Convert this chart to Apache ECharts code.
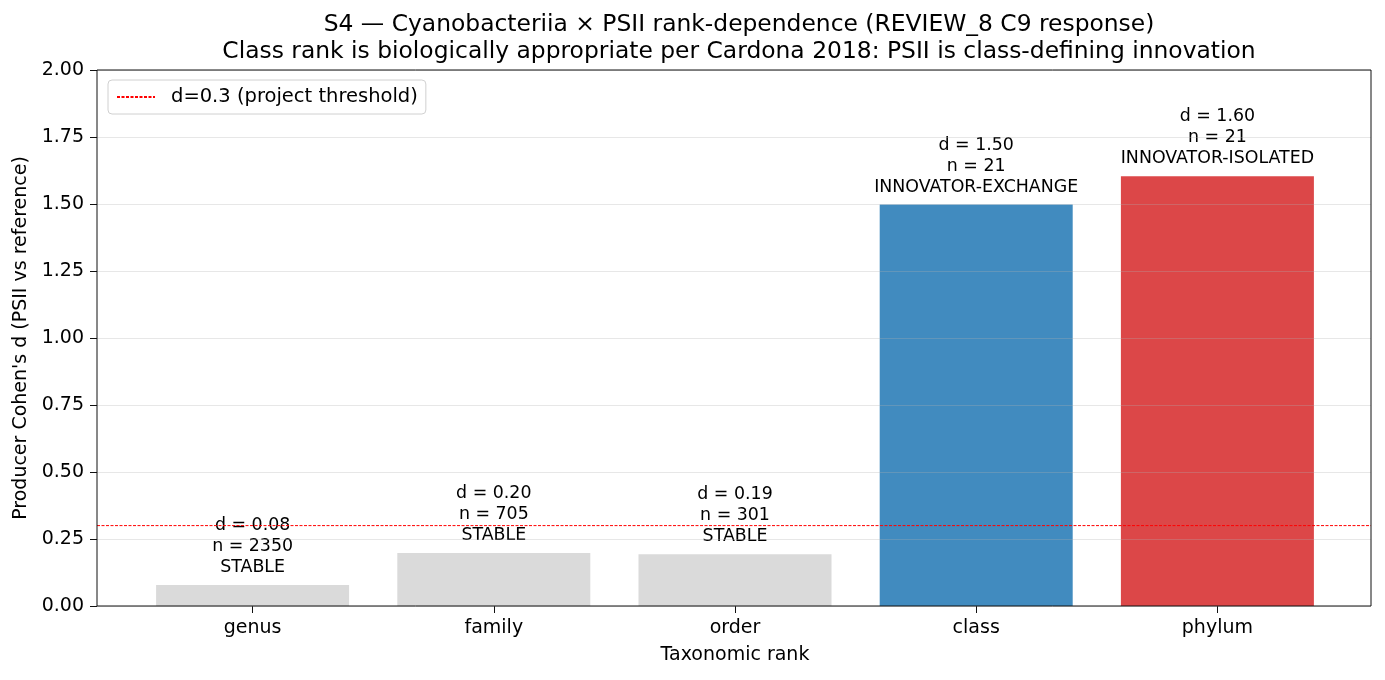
<!DOCTYPE html>
<html>
<head>
<meta charset="utf-8">
<script src="https://cdn.jsdelivr.net/npm/echarts@6/dist/echarts.min.js"></script>
<style>
  html, body { margin: 0; padding: 0; background: #fff; }
  #main { width: 1385px; height: 680px; }
</style>
</head>
<body>
<div id="main"></div>
<script>
// data
var ranks = ['genus', 'family', 'order', 'class', 'phylum'];
var cohenD = [0.078, 0.198, 0.193, 1.498, 1.604];
var nTaxa = [2350, 705, 301, 21, 21];
var verdicts = ['STABLE', 'STABLE', 'STABLE', 'INNOVATOR-EXCHANGE', 'INNOVATOR-ISOLATED'];
var threshold = 0.3;
var yTicks = [0, 0.25, 0.5, 0.75, 1.0, 1.25, 1.5, 1.75, 2.0];

// colours per verdict
var verdictColor = {
  'STABLE': '#dadada',
  'INNOVATOR-EXCHANGE': '#418bbf',
  'INNOVATOR-ISOLATED': '#dc4748'
};

var font = 'DejaVu Sans';
var chart = echarts.init(document.getElementById('main'));

var option = {
  animation: false,
  textStyle: { fontFamily: font },
  title: {
    text: 'S4 — Cyanobacteriia × PSII rank-dependence (REVIEW_8 C9 response)\nClass rank is biologically appropriate per Cardona 2018: PSII is class-defining innovation',
    left: 734,
    top: 6,
    textAlign: 'center',
    textStyle: { fontFamily: font, fontSize: 23.4, fontWeight: 'normal', color: '#000', lineHeight: 27.5 }
  },
  legend: {
    left: 108,
    top: 80,
    padding: [7, 8, 7, 8],
    borderColor: '#d0d0d0',
    borderWidth: 1,
    borderRadius: 4,
    itemWidth: 38,
    itemHeight: 19,
    itemStyle: { opacity: 0 },
    textStyle: { fontFamily: font, fontSize: 19.5, color: '#000', padding: [0, 0, 0, 11] },
    data: ['d=0.3 (project threshold)']
  },
  grid: [
    // frame grid: spines, y axis, threshold
    { left: 97, right: 14, top: 70, bottom: 74, show: true, borderColor: '#111', borderWidth: 1, backgroundColor: 'transparent', z: 10 },
    // bar grid: matplotlib-like x margins
    { left: 132, width: 1206, top: 70, bottom: 74 }
  ],
  xAxis: [
    { type: 'value', gridIndex: 0, min: 0, max: 1, show: false },
    {
      type: 'category', gridIndex: 1, data: ranks,
      axisLine: { show: false },
      axisTick: { show: true, alignWithLabel: true, length: 7, lineStyle: { color: '#111', width: 1 } },
      axisLabel: { fontFamily: font, fontSize: 19, color: '#000', margin: 13 },
      name: 'Taxonomic rank',
      nameLocation: 'middle',
      nameGap: 40,
      nameTextStyle: { fontFamily: font, fontSize: 19, color: '#000' }
    }
  ],
  yAxis: [
    {
      type: 'value', gridIndex: 0, min: 0, max: 2, interval: 0.25, z: 3,
      axisLine: { show: false },
      axisTick: { show: true, length: 7, lineStyle: { color: '#111', width: 1 } },
      axisLabel: {
        fontFamily: font, fontSize: 19, color: '#000', margin: 13,
        formatter: function (v) { return yTicks.indexOf(v) >= 0 ? v.toFixed(2) : ''; }
      },
      splitLine: { show: true, lineStyle: { color: 'rgba(176,176,176,0.3)', width: 1.2 } },
      name: "Producer Cohen's d (PSII vs reference)",
      nameLocation: 'middle',
      nameGap: 63,
      nameTextStyle: { fontFamily: font, fontSize: 19, color: '#000' }
    },
    { type: 'value', gridIndex: 1, min: 0, max: 2, show: false }
  ],
  series: [
    {
      type: 'bar',
      xAxisIndex: 1,
      yAxisIndex: 1,
      barWidth: 193,
      data: cohenD.map(function (v, i) {
        return { value: v, itemStyle: { color: verdictColor[verdicts[i]] } };
      }),
      label: {
        show: true,
        position: 'top',
        distance: 7,
        fontFamily: font,
        fontSize: 17.4,
        lineHeight: 21,
        color: '#000',
        formatter: function (p) {
          var i = p.dataIndex;
          return 'd = ' + cohenD[i].toFixed(2) + '\nn = ' + nTaxa[i] + '\n' + verdicts[i];
        }
      }
    },
    {
      name: 'd=0.3 (project threshold)',
      type: 'line',
      xAxisIndex: 0,
      yAxisIndex: 0,
      z: 6,
      symbol: 'none',
      silent: true,
      lineStyle: { color: '#ff0000', width: 1, type: [3, 1.5] },
      itemStyle: { color: '#ff0000' },
      data: [[0, threshold], [1, threshold]]
    }
  ]
};

chart.setOption(option);
</script>
</body>
</html>
